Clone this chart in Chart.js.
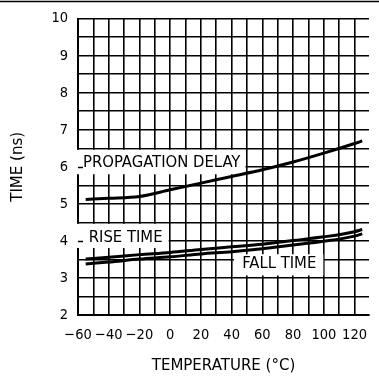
<!DOCTYPE html>
<html><head><meta charset="utf-8">
<script src="https://cdn.jsdelivr.net/npm/chart.js@4/dist/chart.umd.min.js"></script>
<style>html,body{margin:0;padding:0;background:#fff;}#wrap{width:379px;height:381px;position:relative;}</style>
</head><body><div id="wrap"><canvas id="c" width="379" height="381"></canvas></div>
<script>
// ---- data ----
const temps      = [-55, -40, -20, 0, 20, 40, 60, 80, 100, 120, 125];
const propDelay  = [5.12, 5.15, 5.20, 5.38, 5.56, 5.74, 5.92, 6.13, 6.37, 6.63, 6.70];
const riseTime   = [3.51, 3.56, 3.63, 3.69, 3.77, 3.84, 3.91, 4.01, 4.11, 4.25, 4.31];
const fallTime   = [3.38, 3.43, 3.51, 3.57, 3.65, 3.71, 3.79, 3.89, 3.99, 4.13, 4.19];
const xGridValues = [-60, -50, -40, -30, -20, -10, 0, 10, 20, 30, 40, 50, 60, 70, 80, 90, 100, 110, 120];
const xTickValues = [-60, -40, -20, 0, 20, 40, 60, 80, 100, 120];
const xTickLabels = ['\u221260', '\u221240', '\u221220', '0', '20', '40', '60', '80', '100', '120'];
const yGridValues = [2, 2.5, 3, 3.5, 4, 4.5, 5, 5.5, 6, 6.5, 7, 7.5, 8, 8.5, 9, 9.5, 10];
const yTickValues = [2, 3, 4, 5, 6, 7, 8, 9, 10];
const yTickLabels = ['2', '3', '4', '5', '6', '7', '8', '9', '10'];
const seriesNames = ['PROPAGATION DELAY', 'RISE TIME', 'FALL TIME'];
const xTitle = 'TEMPERATURE (\u00B0C)';
const yTitle = 'TIME (ns)';

// ---- label placement (data units) ----
const labelBoxes = [
  {text: seriesNames[0], tx: -5.5, ty: 6.10, x0: null, x1: 49, yTop: 6.46, yBot: 5.80, stub: 6},
  {text: seriesNames[1], tx: -29, ty: 4.08, x0: null, x1: -1, yTop: 4.46, yBot: 3.81, stub: 4},
  {text: seriesNames[2], tx: 71, ty: 3.38, x0: 41.5, x1: 99.7, yTop: 3.64, yBot: 3.07, stub: null}
];

const FONT = '"DejaVu Sans Condensed", "DejaVu Sans", sans-serif';
const TFONT = '"DejaVu Sans", sans-serif';

const labelPlugin = {
  id: 'curveLabels',
  beforeDatasetsDraw(chart) {
    const {ctx, chartArea, scales: {x, y}} = chart;
    ctx.save();
    labelBoxes.forEach(b => {
      const px0 = b.x0 === null ? chartArea.left - 1.5 : x.getPixelForValue(b.x0);
      const px1 = x.getPixelForValue(b.x1);
      const py0 = y.getPixelForValue(b.yTop);
      const py1 = y.getPixelForValue(b.yBot);
      ctx.fillStyle = '#fff';
      ctx.fillRect(px0, py0, px1 - px0, py1 - py0);
      if (b.stub !== null) {
        const sy = Math.round(y.getPixelForValue(b.stub)) + 0.5;
        ctx.strokeStyle = '#000';
        ctx.lineWidth = 1.5;
        ctx.beginPath();
        ctx.moveTo(chartArea.left, sy);
        ctx.lineTo(chartArea.left + 5, sy);
        ctx.stroke();
      }
      ctx.fillStyle = '#000';
      ctx.font = '16.5px ' + FONT;
      ctx.textAlign = 'center';
      ctx.textBaseline = 'middle';
      ctx.fillText(b.text, x.getPixelForValue(b.tx), y.getPixelForValue(b.ty));
    });
    ctx.restore();
  },
  afterDraw(chart) {
    const {ctx, width} = chart;
    ctx.save();
    ctx.strokeStyle = '#000';
    ctx.lineWidth = 1.5;
    ctx.beginPath();
    ctx.moveTo(0, 1.5);
    ctx.lineTo(width, 1.5);
    ctx.stroke();
    ctx.restore();
  }
};

const mk = arr => temps.map((t, i) => ({x: t, y: arr[i]}));
const lineStyle = {borderColor: '#000', borderWidth: 3, pointRadius: 0, fill: false, cubicInterpolationMode: 'monotone'};

new Chart(document.getElementById('c'), {
  type: 'line',
  data: {
    datasets: [
      Object.assign({label: seriesNames[0], data: mk(propDelay)}, lineStyle),
      Object.assign({label: seriesNames[1], data: mk(riseTime)}, lineStyle),
      Object.assign({label: seriesNames[2], data: mk(fallTime)}, lineStyle)
    ]
  },
  options: {
    responsive: false,
    animation: false,
    devicePixelRatio: 1,
    layout: {padding: {top: 14, left: 0, right: 0, bottom: 0}},
    plugins: {legend: {display: false}, tooltip: {enabled: false}},
    scales: {
      x: {
        type: 'linear',
        min: -60,
        max: 129.4,
        afterBuildTicks(s) { s.ticks = xGridValues.map(v => ({value: v})); },
        afterFit(s) { s.height = 66; },
        ticks: {
          autoSkip: false, maxRotation: 0, padding: 12, color: '#000',
          font: {family: FONT, size: 14.5},
          callback(v) { const i = xTickValues.indexOf(v); return i >= 0 ? xTickLabels[i] : ''; }
        },
        grid: {color: '#000', lineWidth: 1.6, drawTicks: false},
        border: {color: '#000', width: 2},
        title: {display: true, text: xTitle, color: '#000', font: {family: TFONT, size: 15}, padding: {top: 0, bottom: 6}}
      },
      y: {
        type: 'linear',
        min: 2,
        max: 10,
        afterBuildTicks(s) { s.ticks = yGridValues.map(v => ({value: v})); },
        afterFit(s) { s.width = 78; },
        ticks: {
          autoSkip: false, padding: 10, color: '#000',
          font: {family: FONT, size: 14.5},
          callback(v) { const i = yTickValues.indexOf(v); return i >= 0 ? yTickLabels[i] : ''; }
        },
        grid: {color: '#000', lineWidth: 1.6, drawTicks: false},
        border: {color: '#000', width: 2},
        title: {display: true, text: yTitle, color: '#000', font: {family: TFONT, size: 15}, padding: {top: 9, bottom: 0}}
      }
    }
  },
  plugins: [labelPlugin]
});
</script></body></html>
